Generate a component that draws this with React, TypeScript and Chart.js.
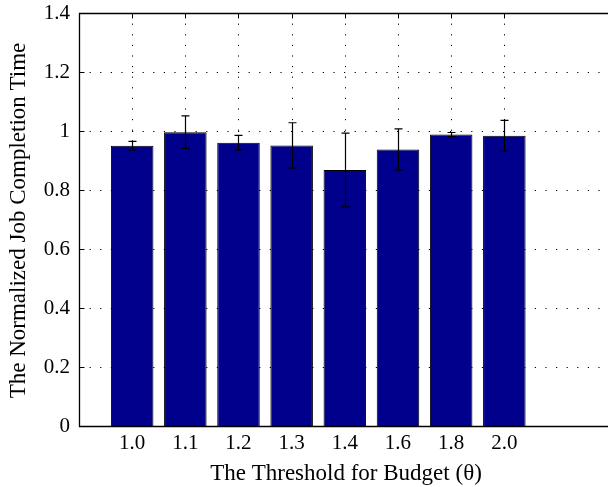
import React, { useEffect, useRef } from "react";
import { Chart, registerables } from "chart.js";

Chart.register(...registerables);

// Budget thresholds (θ) and their bar slots on the x axis
const thresholds = ["1.0", "1.1", "1.2", "1.3", "1.4", "1.6", "1.8", "2.0"];
const positions = [1, 2, 3, 4, 5, 6, 7, 8];

// Mean normalized job completion time and its spread (± error bar)
const normalizedTime = [0.95, 0.996, 0.96, 0.951, 0.868, 0.937, 0.988, 0.984];
const errorSpread = [0.015, 0.055, 0.025, 0.077, 0.125, 0.07, 0.007, 0.052];

const yTicks = [0, 0.2, 0.4, 0.6, 0.8, 1.0, 1.2, 1.4];
const xRange = [0, 9.95];
const yRange = [0, 1.4];

const xTitle = "The Threshold for Budget (θ)";
const yTitle = "The Normalized Job Completion Time";

const SERIF = "'Liberation Serif', 'Times New Roman', serif";
const TICK_FONT = { family: SERIF, size: 21 };
const TITLE_FONT = `23px ${SERIF}`;

const crisp = (v: number) => Math.round(v) + 0.5;

const matlabFrame = {
  id: "matlabFrame",
  beforeDatasetsDraw(chart: any) {
    const { ctx, chartArea: a, scales } = chart;
    const xs = scales.x;
    const ys = scales.y;
    ctx.save();
    ctx.strokeStyle = "#000";
    ctx.lineWidth = 1;
    ctx.setLineDash([1.2, 9.4]);
    // dotted grid
    positions.forEach((p) => {
      const x = crisp(xs.getPixelForValue(p));
      ctx.beginPath();
      ctx.moveTo(x, a.top);
      ctx.lineTo(x, a.bottom);
      ctx.stroke();
    });
    yTicks.forEach((t) => {
      if (t === yRange[0] || t === yRange[1]) return;
      const y = crisp(ys.getPixelForValue(t));
      ctx.beginPath();
      ctx.moveTo(a.left, y);
      ctx.lineTo(a.right, y);
      ctx.stroke();
    });
    ctx.setLineDash([]);
    // bottom ticks pointing inward (sit behind the bars)
    positions.forEach((p) => {
      const x = crisp(xs.getPixelForValue(p));
      ctx.beginPath();
      ctx.moveTo(x, a.bottom);
      ctx.lineTo(x, a.bottom - 5);
      ctx.stroke();
    });
    ctx.restore();
  },
  afterDatasetsDraw(chart: any) {
    const { ctx, chartArea: a, scales } = chart;
    const xs = scales.x;
    const ys = scales.y;
    ctx.save();
    ctx.strokeStyle = "#000";
    ctx.lineWidth = 1.2;
    // error bars
    normalizedTime.forEach((v, i) => {
      const x = crisp(xs.getPixelForValue(positions[i]));
      const yHi = ys.getPixelForValue(v + errorSpread[i]);
      const yLo = ys.getPixelForValue(v - errorSpread[i]);
      ctx.beginPath();
      ctx.moveTo(x, yHi);
      ctx.lineTo(x, yLo);
      ctx.moveTo(x - 4, yHi);
      ctx.lineTo(x + 4, yHi);
      ctx.moveTo(x - 4, yLo);
      ctx.lineTo(x + 4, yLo);
      ctx.stroke();
    });
    // axes frame
    ctx.lineWidth = 1.3;
    const L = crisp(a.left);
    const T = crisp(a.top);
    const B = crisp(a.bottom);
    ctx.beginPath();
    ctx.moveTo(a.right + 2, T);
    ctx.lineTo(L, T);
    ctx.lineTo(L, B);
    ctx.lineTo(a.right + 2, B);
    ctx.stroke();
    // inward ticks on the left and top edges
    ctx.lineWidth = 1;
    yTicks.forEach((t) => {
      const y = crisp(ys.getPixelForValue(t));
      ctx.beginPath();
      ctx.moveTo(L, y);
      ctx.lineTo(L + 5, y);
      ctx.stroke();
    });
    positions.forEach((p) => {
      const x = crisp(xs.getPixelForValue(p));
      ctx.beginPath();
      ctx.moveTo(x, T);
      ctx.lineTo(x, T + 5);
      ctx.stroke();
    });
    ctx.restore();
  },
  afterDraw(chart: any) {
    const { ctx } = chart;
    ctx.save();
    ctx.fillStyle = "#000";
    ctx.font = TITLE_FONT;
    ctx.textAlign = "center";
    ctx.textBaseline = "alphabetic";
    ctx.fillText(xTitle, 346, 480);
    ctx.translate(24.5, 220.5);
    ctx.rotate(-Math.PI / 2);
    ctx.fillText(yTitle, 0, 0);
    ctx.restore();
  },
};

export default function App() {
  const canvasRef = useRef<HTMLCanvasElement | null>(null);

  useEffect(() => {
    const canvas = canvasRef.current;
    if (!canvas) return;
    const chart = new Chart(canvas, {
      type: "bar",
      data: {
        datasets: [
          {
            data: positions.map((x, i) => ({ x, y: normalizedTime[i] })),
            backgroundColor: "#00008c",
            borderColor: "#000",
            borderWidth: 1,
            barPercentage: 0.8,
            categoryPercentage: 1,
          },
        ],
      },
      options: {
        responsive: false,
        animation: false,
        devicePixelRatio: 1,
        layout: { padding: { top: 13, right: 0, left: 0, bottom: 0 } },
        plugins: {
          legend: { display: false },
          tooltip: { enabled: false },
        },
        scales: {
          x: {
            type: "linear",
            min: xRange[0],
            max: xRange[1],
            offset: false,
            grid: { display: false, drawTicks: false },
            border: { display: false },
            afterBuildTicks: (s: any) => {
              s.ticks = positions.map((v) => ({ value: v }));
            },
            afterFit: (s: any) => {
              s.height = 61;
              s.paddingLeft = 0;
              s.paddingRight = 0;
            },
            ticks: {
              autoSkip: false,
              maxRotation: 0,
              padding: 5,
              color: "#000",
              font: TICK_FONT,
              callback: (v: any) => thresholds[positions.indexOf(Number(v))] ?? "",
            },
          },
          y: {
            min: yRange[0],
            max: yRange[1],
            grid: { display: false, drawTicks: false },
            border: { display: false },
            afterBuildTicks: (s: any) => {
              s.ticks = yTicks.map((v) => ({ value: v }));
            },
            afterFit: (s: any) => {
              s.width = 79;
              s.paddingTop = 0;
              s.paddingBottom = 0;
            },
            ticks: {
              padding: 9,
              color: "#000",
              font: TICK_FONT,
              callback: (v: any) => String(Number(Number(v).toFixed(1))),
            },
          },
        },
      } as any,
      plugins: [matlabFrame],
    });
    return () => chart.destroy();
  }, []);

  return (
    <div
      style={{
        position: "fixed",
        left: 0,
        top: 0,
        width: 608,
        height: 487,
        overflow: "hidden",
        background: "#fff",
      }}
    >
      <canvas ref={canvasRef} width={608} height={487} />
    </div>
  );
}
